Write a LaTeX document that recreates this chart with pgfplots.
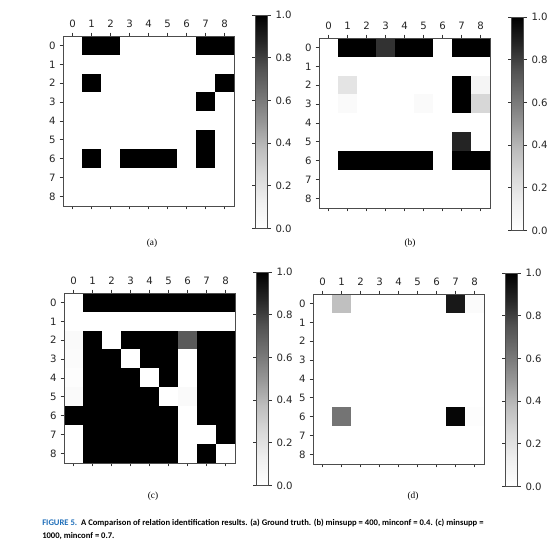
\documentclass[border=0pt]{standalone}
\usepackage{pgfplots}
\usepackage{pgfplotstable}
\pgfplotsset{compat=1.18}
\usepackage{fontspec}
\setmainfont{DejaVu Sans}
\newfontfamily\serifcap{Liberation Serif}
\newfontfamily\capfont{Carlito}
\definecolor{figblue}{RGB}{30,110,185}

\pgfplotstableread[row sep=\\]{
x y c \\
0 0 0 \\ 1 0 1 \\ 2 0 1 \\ 3 0 0 \\ 4 0 0 \\ 5 0 0 \\ 6 0 0 \\ 7 0 1 \\ 8 0 1 \\
0 1 0 \\ 1 1 0 \\ 2 1 0 \\ 3 1 0 \\ 4 1 0 \\ 5 1 0 \\ 6 1 0 \\ 7 1 0 \\ 8 1 0 \\
0 2 0 \\ 1 2 1 \\ 2 2 0 \\ 3 2 0 \\ 4 2 0 \\ 5 2 0 \\ 6 2 0 \\ 7 2 0 \\ 8 2 1 \\
0 3 0 \\ 1 3 0 \\ 2 3 0 \\ 3 3 0 \\ 4 3 0 \\ 5 3 0 \\ 6 3 0 \\ 7 3 1 \\ 8 3 0 \\
0 4 0 \\ 1 4 0 \\ 2 4 0 \\ 3 4 0 \\ 4 4 0 \\ 5 4 0 \\ 6 4 0 \\ 7 4 0 \\ 8 4 0 \\
0 5 0 \\ 1 5 0 \\ 2 5 0 \\ 3 5 0 \\ 4 5 0 \\ 5 5 0 \\ 6 5 0 \\ 7 5 1 \\ 8 5 0 \\
0 6 0 \\ 1 6 1 \\ 2 6 0 \\ 3 6 1 \\ 4 6 1 \\ 5 6 1 \\ 6 6 0 \\ 7 6 1 \\ 8 6 0 \\
0 7 0 \\ 1 7 0 \\ 2 7 0 \\ 3 7 0 \\ 4 7 0 \\ 5 7 0 \\ 6 7 0 \\ 7 7 0 \\ 8 7 0 \\
0 8 0 \\ 1 8 0 \\ 2 8 0 \\ 3 8 0 \\ 4 8 0 \\ 5 8 0 \\ 6 8 0 \\ 7 8 0 \\ 8 8 0 \\
}\tabA

\pgfplotstableread[row sep=\\]{
x y c \\
0 0 0 \\ 1 0 1 \\ 2 0 1 \\ 3 0 0.84 \\ 4 0 1 \\ 5 0 1 \\ 6 0 0 \\ 7 0 1 \\ 8 0 1 \\
0 1 0 \\ 1 1 0 \\ 2 1 0 \\ 3 1 0 \\ 4 1 0 \\ 5 1 0 \\ 6 1 0 \\ 7 1 0 \\ 8 1 0 \\
0 2 0 \\ 1 2 0.19 \\ 2 2 0 \\ 3 2 0 \\ 4 2 0 \\ 5 2 0 \\ 6 2 0 \\ 7 2 1 \\ 8 2 0.08 \\
0 3 0 \\ 1 3 0.04 \\ 2 3 0 \\ 3 3 0 \\ 4 3 0 \\ 5 3 0.04 \\ 6 3 0 \\ 7 3 1 \\ 8 3 0.26 \\
0 4 0 \\ 1 4 0 \\ 2 4 0 \\ 3 4 0 \\ 4 4 0 \\ 5 4 0 \\ 6 4 0 \\ 7 4 0 \\ 8 4 0 \\
0 5 0 \\ 1 5 0 \\ 2 5 0 \\ 3 5 0 \\ 4 5 0 \\ 5 5 0 \\ 6 5 0 \\ 7 5 0.88 \\ 8 5 0 \\
0 6 0 \\ 1 6 1 \\ 2 6 1 \\ 3 6 1 \\ 4 6 1 \\ 5 6 1 \\ 6 6 0 \\ 7 6 1 \\ 8 6 1 \\
0 7 0 \\ 1 7 0 \\ 2 7 0 \\ 3 7 0 \\ 4 7 0 \\ 5 7 0 \\ 6 7 0 \\ 7 7 0 \\ 8 7 0 \\
0 8 0 \\ 1 8 0 \\ 2 8 0 \\ 3 8 0 \\ 4 8 0 \\ 5 8 0 \\ 6 8 0 \\ 7 8 0 \\ 8 8 0 \\
}\tabB

\pgfplotstableread[row sep=\\]{
x y c \\
0 0 0 \\ 1 0 1 \\ 2 0 1 \\ 3 0 1 \\ 4 0 1 \\ 5 0 1 \\ 6 0 1 \\ 7 0 1 \\ 8 0 1 \\
0 1 0 \\ 1 1 0 \\ 2 1 0 \\ 3 1 0 \\ 4 1 0 \\ 5 1 0 \\ 6 1 0 \\ 7 1 0 \\ 8 1 0 \\
0 2 0.04 \\ 1 2 1 \\ 2 2 0 \\ 3 2 1 \\ 4 2 1 \\ 5 2 1 \\ 6 2 0.72 \\ 7 2 1 \\ 8 2 1 \\
0 3 0.03 \\ 1 3 1 \\ 2 3 1 \\ 3 3 0 \\ 4 3 1 \\ 5 3 1 \\ 6 3 0 \\ 7 3 1 \\ 8 3 1 \\
0 4 0.02 \\ 1 4 1 \\ 2 4 1 \\ 3 4 1 \\ 4 4 0 \\ 5 4 1 \\ 6 4 0 \\ 7 4 1 \\ 8 4 1 \\
0 5 0.04 \\ 1 5 1 \\ 2 5 1 \\ 3 5 1 \\ 4 5 1 \\ 5 5 0 \\ 6 5 0.04 \\ 7 5 1 \\ 8 5 1 \\
0 6 1 \\ 1 6 1 \\ 2 6 1 \\ 3 6 1 \\ 4 6 1 \\ 5 6 1 \\ 6 6 0 \\ 7 6 1 \\ 8 6 1 \\
0 7 0 \\ 1 7 1 \\ 2 7 1 \\ 3 7 1 \\ 4 7 1 \\ 5 7 1 \\ 6 7 0 \\ 7 7 0 \\ 8 7 1 \\
0 8 0 \\ 1 8 1 \\ 2 8 1 \\ 3 8 1 \\ 4 8 1 \\ 5 8 1 \\ 6 8 0 \\ 7 8 1 \\ 8 8 0 \\
}\tabC

\pgfplotstableread[row sep=\\]{
x y c \\
0 0 0 \\ 1 0 0.36 \\ 2 0 0 \\ 3 0 0 \\ 4 0 0 \\ 5 0 0 \\ 6 0 0 \\ 7 0 0.92 \\ 8 0 0.03 \\
0 1 0 \\ 1 1 0 \\ 2 1 0 \\ 3 1 0 \\ 4 1 0 \\ 5 1 0 \\ 6 1 0 \\ 7 1 0 \\ 8 1 0 \\
0 2 0 \\ 1 2 0 \\ 2 2 0 \\ 3 2 0 \\ 4 2 0 \\ 5 2 0 \\ 6 2 0 \\ 7 2 0 \\ 8 2 0 \\
0 3 0 \\ 1 3 0 \\ 2 3 0 \\ 3 3 0 \\ 4 3 0 \\ 5 3 0 \\ 6 3 0 \\ 7 3 0 \\ 8 3 0 \\
0 4 0 \\ 1 4 0 \\ 2 4 0 \\ 3 4 0 \\ 4 4 0 \\ 5 4 0 \\ 6 4 0 \\ 7 4 0 \\ 8 4 0 \\
0 5 0 \\ 1 5 0 \\ 2 5 0 \\ 3 5 0 \\ 4 5 0 \\ 5 5 0 \\ 6 5 0 \\ 7 5 0 \\ 8 5 0 \\
0 6 0 \\ 1 6 0.62 \\ 2 6 0 \\ 3 6 0 \\ 4 6 0 \\ 5 6 0 \\ 6 6 0 \\ 7 6 0.98 \\ 8 6 0.02 \\
0 7 0 \\ 1 7 0 \\ 2 7 0 \\ 3 7 0 \\ 4 7 0 \\ 5 7 0 \\ 6 7 0 \\ 7 7 0 \\ 8 7 0 \\
0 8 0 \\ 1 8 0 \\ 2 8 0 \\ 3 8 0 \\ 4 8 0 \\ 5 8 0 \\ 6 8 0 \\ 7 8 0 \\ 8 8 0 \\
}\tabD

\pgfplotsset{
  hm/.style={
    scale only axis, width=128.25pt, height=127.5pt, anchor=north west,
    axis on top,
    xmin=-0.5, xmax=8.5, ymin=-0.5, ymax=8.5, y dir=reverse,
    enlargelimits=false,
    xtick={0,...,8}, ytick={0,...,8},
    xtick pos=both, xticklabel pos=upper, ytick pos=left,
    tick align=outside, major tick length=2.6pt,
    tick style={black!80, line width=0.6pt},
    axis line style={black!70, line width=0.7pt},
    tick label style={font=\fontsize{7.6}{8}\selectfont, text=black!85},
    yticklabel style={xshift=0.5pt},
    /pgf/number format/assume math mode=true,
    colormap={greys}{rgb255=(255,255,255) rgb255=(240,240,240) rgb255=(217,217,217) rgb255=(189,189,189) rgb255=(150,150,150) rgb255=(115,115,115) rgb255=(82,82,82) rgb255=(37,37,37) rgb255=(0,0,0)},
    point meta min=0, point meta max=1,
    colorbar,
    colorbar style={
      width=8.6pt, height=160pt,
      at={(parent axis.north east)}, anchor=north west,
      xshift=7.9pt, yshift=15.75pt,
      ytick={0,0.2,0.4,0.6,0.8,1},
      yticklabel style={/pgf/number format/.cd, fixed, fixed zerofill, precision=1, assume math mode=true},
      tick align=outside, major tick length=2.6pt,
      axis line style={black!70, line width=0.7pt},
      tick label style={font=\fontsize{7.6}{8}\selectfont, text=black!85},
    },
  },
  hmplot/.style={matrix plot*, mesh/cols=9, point meta=explicit},
}

\begin{document}
\begin{tikzpicture}
\path[use as bounding box, fill=white] (0pt,0pt) rectangle (414.75pt,-411pt);

\begin{axis}[hm, at={(47.25pt,-27pt)}]
\addplot[hmplot] table[x=x, y=y, meta=c] {\tabA};
\end{axis}

\begin{axis}[hm, at={(239.25pt,-28.5pt)}]
\addplot[hmplot] table[x=x, y=y, meta=c] {\tabB};
\end{axis}

\begin{axis}[hm, at={(48pt,-219.75pt)}]
\addplot[hmplot] table[x=x, y=y, meta=c] {\tabC};
\end{axis}

\begin{axis}[hm, at={(234.75pt,-220.5pt)}]
\addplot[hmplot] table[x=x, y=y, meta=c] {\tabD};
\end{axis}

\node[font=\serifcap\fontsize{7}{8}\selectfont] at (114pt,-182.25pt) {(a)};
\node[font=\serifcap\fontsize{7}{8}\selectfont] at (307.5pt,-182.25pt) {(b)};
\node[font=\serifcap\fontsize{7}{8}\selectfont] at (114.75pt,-372pt) {(c)};
\node[font=\serifcap\fontsize{7}{8}\selectfont] at (309.75pt,-372pt) {(d)};

\node[anchor=base west, inner sep=0pt, font=\capfont\bfseries\fontsize{6.45}{7}\selectfont] at (31.5pt,-393.75pt)
  {\textcolor{figblue}{FIGURE 5.}\ \ A Comparison of relation identification results. (a) Ground truth. (b) minsupp = 400, minconf = 0.4. (c) minsupp =};
\node[anchor=base west, inner sep=0pt, font=\capfont\bfseries\fontsize{6.45}{7}\selectfont] at (31.5pt,-403.5pt)
  {1000, minconf = 0.7.};
\end{tikzpicture}
\end{document}
